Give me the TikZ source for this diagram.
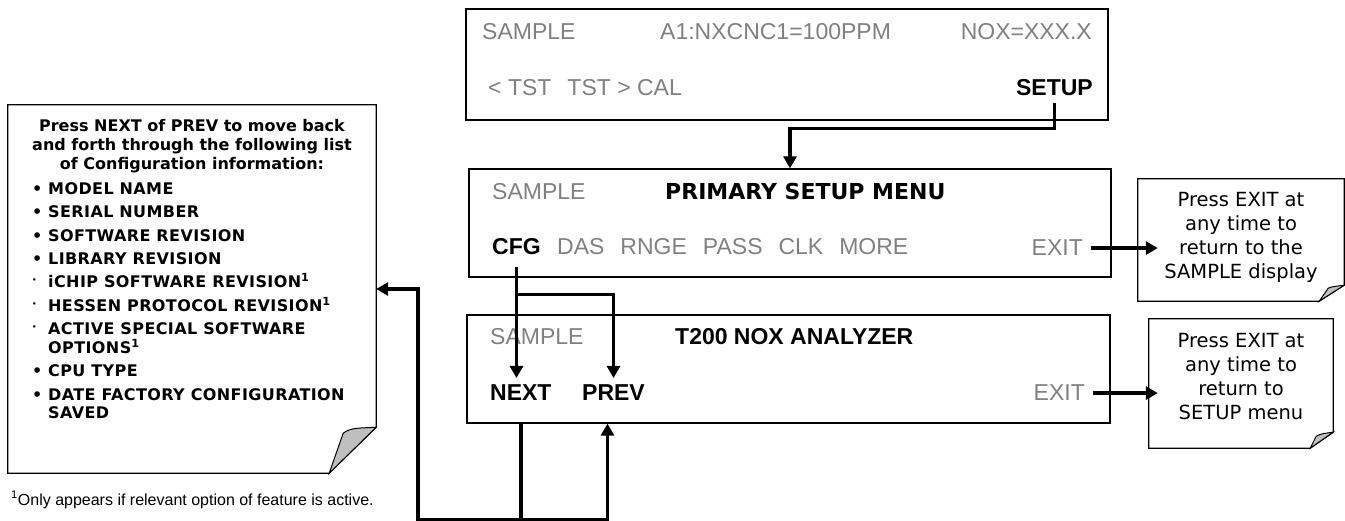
\documentclass[tikz,border=0pt]{standalone}
\usepackage{fontspec}
\setmainfont{Liberation Sans}
\newfontfamily\verd{DejaVu Sans}
\newfontfamily\verdwide[LetterSpace=2.5]{DejaVu Sans}
\usepackage{tikz}
\usetikzlibrary{arrows.meta,calc}
\newcommand{\wsp}{\hspace{16pt}}
\newcommand{\bul}{\makebox[16pt][l]{•}}
\newcommand{\sbul}{\makebox[16pt][l]{\raisebox{5pt}{\fontsize{7}{7}\selectfont •}}}

\begin{document}
\begin{tikzpicture}[
  x=1pt, y=-1pt,
  lcd/.style={draw, line width=1.2pt, inner sep=0pt},
  dim/.style={inner sep=0pt, text=black!50, font=\fontsize{23}{27}\selectfont},
  hot/.style={inner xsep=0pt, inner ysep=7pt, font=\fontsize{23}{27}\selectfont\bfseries},
  ttl/.style={inner sep=0pt, font=\fontsize{23}{27}\selectfont\bfseries},
  exitkey/.style={dim, inner xsep=8pt},
  frame/.style={inner sep=0pt},
  notetxt/.style={inner sep=0pt, align=center, font=\verd\fontsize{19.5}{24}\selectfont},
  infotxt/.style={inner sep=0pt, font=\verd\bfseries\fontsize{16}{19}\selectfont},
  listtxt/.style={inner sep=0pt, font=\verdwide\bfseries\fontsize{16}{19}\selectfont},
  foot/.style={inner sep=0pt, font=\fontsize{16}{19}\selectfont},
  noteline/.style={draw, line width=1.2pt},
  fold/.style={draw, line width=1pt, fill=black!25},
  conn/.style={line width=3.5pt, -{Triangle[length=12pt,width=13pt]}},
  link/.style={line width=3.5pt}
]
  \useasboundingbox (0,0) rectangle (1345,521);

  \node[lcd, minimum width=642pt, minimum height=111pt] (main) at (787,64.5) {};
  \node[dim, anchor=base west] (smp1) at (482,40) {SAMPLE};
  \node[dim, anchor=base west] (conc) at (660,40) {A1:NXCNC1=100PPM};
  \node[dim, anchor=base east] (nox) at (1092,40) {NOX=XXX.X};
  \node[dim, anchor=base west] (tst) at (488,96) {< TST\wsp TST > CAL};
  \node[hot, anchor=base east] (setup) at (1093,96) {SETUP};

  \node[lcd, minimum width=642pt, minimum height=108pt] (psm) at (790,223) {};
  \node[dim, anchor=base west] (smp2) at (492,200) {SAMPLE};
  \node[ttl, font=\verd\bfseries\fontsize{22}{26}\selectfont, anchor=base west] (psmhd) at (665,200) {PRIMARY SETUP MENU};
  \node[hot, inner ysep=12pt, anchor=base west] (cfg) at (492,255) {CFG};
  \node[dim, anchor=base west] (other) at (557,255) {DAS\wsp RNGE\wsp PASS\wsp CLK\wsp MORE};
  \node[exitkey, anchor=base east] (exit1) at (1091,256) {EXIT};

  \node[lcd, minimum width=643pt, minimum height=108pt] (t200) at (788.5,369) {};
  \node[dim, anchor=base west] (smp3) at (490,345) {SAMPLE};
  \node[ttl, anchor=base west] (t200hd) at (675,345) {T200 NOX ANALYZER};
  \node[hot, anchor=base west] (next) at (490,401) {NEXT};
  \node[hot, anchor=base west] (prev) at (582,401) {PREV};
  \node[exitkey, anchor=base east] (exit2) at (1093,401) {EXIT};

  \node[frame, minimum width=368pt, minimum height=368pt] (info) at (192,289) {};
  \draw[noteline] (info.north west) -- (info.north east) -- ([yshift=46pt]info.south east)
    -- ([xshift=-47pt]info.south east) -- (info.south west) -- cycle;
  \coordinate (infofold) at ([yshift=46pt]info.south east);
  \draw[fold] (infofold) .. controls ($(infofold)+(-14pt,-1pt)$) and ($(infofold)+(-26pt,0pt)$)
    .. ($(infofold)+(-33pt,-6pt)$) -- ($(infofold)+(-47pt,-46pt)$) -- cycle;
  \node[infotxt, align=center, anchor=north] (infohd) at (192,118.8)
    {Press NEXT of PREV to move back\\and forth through the following list\\of Configuration information:};
  \node[listtxt, align=left, anchor=north west] (infolist) at (32,182.3) {%
    \bul MODEL NAME\\[4.4pt]
    \bul SERIAL NUMBER\\[4.4pt]
    \bul SOFTWARE REVISION\\[4.4pt]
    \bul LIBRARY REVISION\\[4.4pt]
    \sbul iCHIP SOFTWARE REVISION\textsuperscript{1}\\[4.4pt]
    \sbul HESSEN PROTOCOL REVISION\textsuperscript{1}\\[4.4pt]
    \sbul ACTIVE SPECIAL SOFTWARE\\[-0.5pt]
    \hspace*{16pt}OPTIONS\textsuperscript{1}\\[4.4pt]
    \bul CPU TYPE\\[4.4pt]
    \bul DATE FACTORY CONFIGURATION\\[-0.5pt]
    \hspace*{16pt}SAVED};
  \node[foot, anchor=base west] (fnote) at (11,505)
    {\textsuperscript{1}Only appears if relevant option of feature is active.};

  \node[frame, minimum width=206pt, minimum height=122pt] (note1) at (1241,240) {};
  \draw[noteline] (note1.north west) -- (note1.north east) -- ([yshift=16pt]note1.south east)
    -- ([xshift=-25pt]note1.south east) -- (note1.south west) -- cycle;
  \coordinate (n1fold) at ([yshift=16pt]note1.south east);
  \draw[fold] (n1fold) .. controls ($(n1fold)+(-6pt,-1pt)$) and ($(n1fold)+(-12pt,-1pt)$)
    .. ($(n1fold)+(-16pt,-3pt)$) -- ($(n1fold)+(-25pt,-16pt)$) -- cycle;
  \node[notetxt, anchor=north] (note1txt) at (1241,192)
    {Press EXIT at\\any time to\\return to the\\SAMPLE display};

  \node[frame, minimum width=184pt, minimum height=129pt] (note2) at (1241,383.5) {};
  \draw[noteline] (note2.north west) -- (note2.north east) -- ([yshift=16pt]note2.south east)
    -- ([xshift=-23pt]note2.south east) -- (note2.south west) -- cycle;
  \coordinate (n2fold) at ([yshift=16pt]note2.south east);
  \draw[fold] (n2fold) .. controls ($(n2fold)+(-6pt,-1pt)$) and ($(n2fold)+(-12pt,-1pt)$)
    .. ($(n2fold)+(-17pt,-4pt)$) -- ($(n2fold)+(-23pt,-16pt)$) -- cycle;
  \node[notetxt, anchor=north] (note2txt) at (1241,333)
    {Press EXIT at\\any time to\\return to\\SETUP menu};

  \draw[conn] (setup.south) -- ++(0,25) -| (psm.north);
  \draw[conn] (cfg.south) -- (cfg.south |- next.north);
  \draw[conn] (cfg.south) ++(0,27) -| (prev.north);
  \draw[conn] (exit1.east) -- ($(exit1.east -| note1.west)+(20pt,0)$);
  \draw[conn] (exit2.east) -- ($(exit2.east -| note2.west)+(9pt,0)$);
  \draw[conn] (next.south |- t200.south) -- ++(0,96) -| ([xshift=42pt]info.east) -- (info.east);
  \draw[conn] (next.south |- t200.south) ++(0,96) -| ($(prev.south |- t200.south)+(-6pt,0)$);
\end{tikzpicture}
\end{document}
